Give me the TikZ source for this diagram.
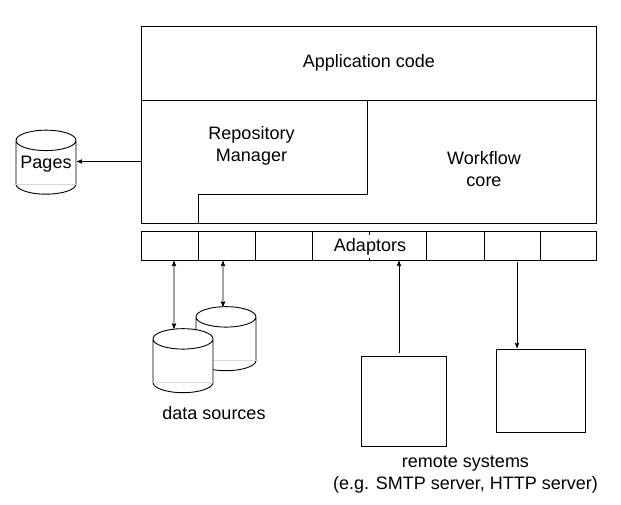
\documentclass[tikz,border=0pt]{standalone}
\usepackage{fontspec}
\setmainfont{Liberation Sans}
\usetikzlibrary{arrows,positioning,shapes.geometric}

\begin{document}
\begin{tikzpicture}[x=1pt,y=-1pt,>=stealth',line width=0.9pt,
                    every node/.style={font=\fontsize{18}{22}\selectfont,align=center},
                    layer box/.style={draw,rectangle,inner sep=0pt,outer sep=0pt,anchor=north west},
                    adaptor cell/.style={layer box,minimum height=29pt},
                    remote box/.style={layer box,fill=white},
                    store/.style={draw,cylinder,shape border rotate=90,aspect=0.4,fill=white,
                                  inner sep=0pt,outer sep=0pt,minimum width=60pt,minimum height=64pt},
                    label text/.style={inner sep=0pt},
                    faint/.style={gray!30,line width=0.5pt}]
\useasboundingbox (0,0) rectangle (621,505);

% application stack
\node[layer box,minimum width=455pt,minimum height=74pt] (app) at (141,26) {};
\node[layer box,minimum width=455pt,minimum height=123pt] (core) [below=0pt of app.south west,anchor=north west] {};
\coordinate (rmtop) at (367,100);
\coordinate (rmknee) at (367,194);
\coordinate (rmleft) at (198,194);
\coordinate (rmfoot) at (198,223);
\draw (rmtop) -- (rmknee) -- (rmleft) -- (rmfoot);

\node[label text] (apptext) at (369,63) {Application code};
\node[label text] (rmtext) at (251.5,145.5) {Repository\\Manager};
\node[label text] (coretext) at (484,169.5) {Workflow\\core};

% adaptor row
\node[adaptor cell,minimum width=57pt] (a1) at (141,231) {};
\node[adaptor cell,minimum width=57pt] (a2) [right=0pt of a1] {};
\node[adaptor cell,minimum width=57pt] (a3) [right=0pt of a2] {};
\node[adaptor cell,minimum width=57pt] (a4) [right=0pt of a3] {};
\node[adaptor cell,minimum width=57pt] (a5) [right=0pt of a4] {};
\node[adaptor cell,minimum width=58pt] (a6) [right=0pt of a5] {};
\node[adaptor cell,minimum width=56pt] (a7) [right=0pt of a6] {};
\node[adaptor cell,minimum width=56pt] (a8) [right=0pt of a7] {};
\node[fill=white,inner sep=0pt,minimum height=23pt] (adaptors) at (370,246.5) {Adaptors};

% stores
\node[store] (pages) at (46,167.5) {\raisebox{11pt}{Pages}};
\node[store] (back) at (226,344) {\phantom{Pages}};
\draw[faint] (back.before bottom) -- (back.after bottom);
\node[store] (front) at (183,366) {\phantom{Pages}};
\node[label text] (dstext) at (214,413) {data sources};
\draw[faint] (pages.before bottom) -- (pages.after bottom);
\draw[faint] (front.before bottom) -- (front.after bottom);

% remote systems
\node[remote box,minimum width=85pt,minimum height=90pt] (r1) at (361,356) {};
\node[remote box,minimum width=89pt,minimum height=83pt] (r2) at (496,349) {};
\node[label text] (rstext) at (465.5,475) {remote systems\\(e.g. SMTP server, HTTP server)};

\draw[->,shorten >=1pt] (core.west) -- (core.west -| pages.east);
\draw[<->] ([xshift=4.5pt,yshift=-1pt]a1.south) -- ([xshift=-9pt]front.north);
\draw[<->] ([xshift=-3.5pt,yshift=-1pt]a2.south) -- ([xshift=-3pt]back.north);
\draw[->] ([xshift=-4.5pt,yshift=3pt]r1.north) -- ([xshift=-27pt,yshift=-1pt]a5.south east);
\draw[->] ([xshift=5pt,yshift=-2pt]a7.south) -- ([xshift=-23.5pt,yshift=1pt]r2.north);
\end{tikzpicture}
\end{document}
